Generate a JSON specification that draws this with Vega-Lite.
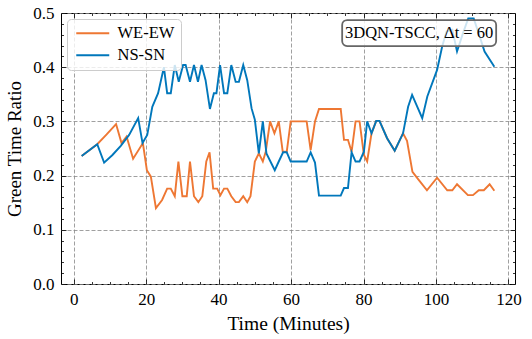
{
  "$schema": "https://vega.github.io/schema/vega-lite/v6.json",
  "width": 454,
  "height": 271,
  "autosize": "none",
  "padding": {"left": 61, "top": 13, "right": 17, "bottom": 55},
  "background": "white",
  "config": {"view": {"stroke": "black", "strokeWidth": 1}, "font": "Liberation Serif"},
  "datasets": {
    "lines": [
      {"t": 2.2, "s": "WE-EW", "v": 0.236}, {"t": 6.5, "s": "WE-EW", "v": 0.258}, {"t": 9.1, "s": "WE-EW", "v": 0.276},
      {"t": 11.7, "s": "WE-EW", "v": 0.295}, {"t": 13.2, "s": "WE-EW", "v": 0.26}, {"t": 14.6, "s": "WE-EW", "v": 0.272},
      {"t": 16.4, "s": "WE-EW", "v": 0.231}, {"t": 19.1, "s": "WE-EW", "v": 0.26}, {"t": 20.2, "s": "WE-EW", "v": 0.21},
      {"t": 21.3, "s": "WE-EW", "v": 0.198}, {"t": 22.7, "s": "WE-EW", "v": 0.14}, {"t": 24.4, "s": "WE-EW", "v": 0.155},
      {"t": 25.8, "s": "WE-EW", "v": 0.176}, {"t": 26.8, "s": "WE-EW", "v": 0.176}, {"t": 27.9, "s": "WE-EW", "v": 0.162},
      {"t": 28.9, "s": "WE-EW", "v": 0.226}, {"t": 30.0, "s": "WE-EW", "v": 0.162}, {"t": 31.2, "s": "WE-EW", "v": 0.162},
      {"t": 32.1, "s": "WE-EW", "v": 0.226}, {"t": 33.2, "s": "WE-EW", "v": 0.162}, {"t": 34.4, "s": "WE-EW", "v": 0.151},
      {"t": 35.5, "s": "WE-EW", "v": 0.162}, {"t": 36.6, "s": "WE-EW", "v": 0.226}, {"t": 37.5, "s": "WE-EW", "v": 0.243},
      {"t": 38.5, "s": "WE-EW", "v": 0.176}, {"t": 39.6, "s": "WE-EW", "v": 0.176}, {"t": 40.5, "s": "WE-EW", "v": 0.164},
      {"t": 41.5, "s": "WE-EW", "v": 0.176}, {"t": 42.4, "s": "WE-EW", "v": 0.176}, {"t": 43.5, "s": "WE-EW", "v": 0.162},
      {"t": 44.7, "s": "WE-EW", "v": 0.151}, {"t": 45.6, "s": "WE-EW", "v": 0.151}, {"t": 46.8, "s": "WE-EW", "v": 0.162},
      {"t": 47.9, "s": "WE-EW", "v": 0.151}, {"t": 48.8, "s": "WE-EW", "v": 0.162}, {"t": 50.0, "s": "WE-EW", "v": 0.226},
      {"t": 51.1, "s": "WE-EW", "v": 0.241}, {"t": 52.2, "s": "WE-EW", "v": 0.226}, {"t": 53.0, "s": "WE-EW", "v": 0.244},
      {"t": 54.2, "s": "WE-EW", "v": 0.3}, {"t": 55.4, "s": "WE-EW", "v": 0.278}, {"t": 56.6, "s": "WE-EW", "v": 0.3},
      {"t": 57.7, "s": "WE-EW", "v": 0.244}, {"t": 58.8, "s": "WE-EW", "v": 0.244}, {"t": 59.9, "s": "WE-EW", "v": 0.3},
      {"t": 64.3, "s": "WE-EW", "v": 0.3}, {"t": 65.4, "s": "WE-EW", "v": 0.247}, {"t": 66.6, "s": "WE-EW", "v": 0.3},
      {"t": 67.7, "s": "WE-EW", "v": 0.323}, {"t": 73.7, "s": "WE-EW", "v": 0.323}, {"t": 74.6, "s": "WE-EW", "v": 0.266},
      {"t": 75.7, "s": "WE-EW", "v": 0.266}, {"t": 76.7, "s": "WE-EW", "v": 0.244}, {"t": 77.8, "s": "WE-EW", "v": 0.3},
      {"t": 78.9, "s": "WE-EW", "v": 0.3}, {"t": 80.1, "s": "WE-EW", "v": 0.238}, {"t": 81.0, "s": "WE-EW", "v": 0.226},
      {"t": 82.2, "s": "WE-EW", "v": 0.278}, {"t": 83.5, "s": "WE-EW", "v": 0.301}, {"t": 84.4, "s": "WE-EW", "v": 0.301},
      {"t": 86.5, "s": "WE-EW", "v": 0.269}, {"t": 88.6, "s": "WE-EW", "v": 0.246}, {"t": 90.9, "s": "WE-EW", "v": 0.278},
      {"t": 92.0, "s": "WE-EW", "v": 0.264}, {"t": 93.5, "s": "WE-EW", "v": 0.207}, {"t": 95.0, "s": "WE-EW", "v": 0.194},
      {"t": 97.5, "s": "WE-EW", "v": 0.173}, {"t": 100.3, "s": "WE-EW", "v": 0.196}, {"t": 103.1, "s": "WE-EW", "v": 0.173},
      {"t": 104.5, "s": "WE-EW", "v": 0.173}, {"t": 105.8, "s": "WE-EW", "v": 0.184}, {"t": 108.8, "s": "WE-EW", "v": 0.164},
      {"t": 110.2, "s": "WE-EW", "v": 0.164}, {"t": 111.8, "s": "WE-EW", "v": 0.173}, {"t": 113.2, "s": "WE-EW", "v": 0.173},
      {"t": 114.8, "s": "WE-EW", "v": 0.184}, {"t": 116.1, "s": "WE-EW", "v": 0.172},
      {"t": 2.2, "s": "NS-SN", "v": 0.236}, {"t": 6.5, "s": "NS-SN", "v": 0.258}, {"t": 8.4, "s": "NS-SN", "v": 0.224},
      {"t": 10.7, "s": "NS-SN", "v": 0.238}, {"t": 13.0, "s": "NS-SN", "v": 0.255}, {"t": 15.3, "s": "NS-SN", "v": 0.275},
      {"t": 17.8, "s": "NS-SN", "v": 0.306}, {"t": 19.0, "s": "NS-SN", "v": 0.26}, {"t": 20.3, "s": "NS-SN", "v": 0.275},
      {"t": 21.7, "s": "NS-SN", "v": 0.327}, {"t": 23.3, "s": "NS-SN", "v": 0.352}, {"t": 24.9, "s": "NS-SN", "v": 0.4},
      {"t": 25.8, "s": "NS-SN", "v": 0.352}, {"t": 26.8, "s": "NS-SN", "v": 0.352}, {"t": 27.9, "s": "NS-SN", "v": 0.404},
      {"t": 29.0, "s": "NS-SN", "v": 0.373}, {"t": 30.2, "s": "NS-SN", "v": 0.404}, {"t": 30.9, "s": "NS-SN", "v": 0.404},
      {"t": 32.1, "s": "NS-SN", "v": 0.373}, {"t": 33.2, "s": "NS-SN", "v": 0.404}, {"t": 34.3, "s": "NS-SN", "v": 0.373},
      {"t": 35.3, "s": "NS-SN", "v": 0.404}, {"t": 36.4, "s": "NS-SN", "v": 0.376}, {"t": 37.6, "s": "NS-SN", "v": 0.323},
      {"t": 38.7, "s": "NS-SN", "v": 0.352}, {"t": 39.4, "s": "NS-SN", "v": 0.352}, {"t": 40.4, "s": "NS-SN", "v": 0.404},
      {"t": 41.5, "s": "NS-SN", "v": 0.352}, {"t": 42.4, "s": "NS-SN", "v": 0.352}, {"t": 43.5, "s": "NS-SN", "v": 0.404},
      {"t": 44.7, "s": "NS-SN", "v": 0.373}, {"t": 45.6, "s": "NS-SN", "v": 0.373}, {"t": 46.8, "s": "NS-SN", "v": 0.404},
      {"t": 47.9, "s": "NS-SN", "v": 0.376}, {"t": 49.1, "s": "NS-SN", "v": 0.324}, {"t": 50.0, "s": "NS-SN", "v": 0.303},
      {"t": 51.1, "s": "NS-SN", "v": 0.241}, {"t": 52.2, "s": "NS-SN", "v": 0.3}, {"t": 53.2, "s": "NS-SN", "v": 0.241},
      {"t": 55.5, "s": "NS-SN", "v": 0.21}, {"t": 56.6, "s": "NS-SN", "v": 0.226}, {"t": 57.8, "s": "NS-SN", "v": 0.243},
      {"t": 58.8, "s": "NS-SN", "v": 0.243}, {"t": 59.9, "s": "NS-SN", "v": 0.226}, {"t": 64.3, "s": "NS-SN", "v": 0.226},
      {"t": 65.4, "s": "NS-SN", "v": 0.243}, {"t": 66.6, "s": "NS-SN", "v": 0.224}, {"t": 67.7, "s": "NS-SN", "v": 0.163},
      {"t": 73.7, "s": "NS-SN", "v": 0.163}, {"t": 74.6, "s": "NS-SN", "v": 0.177}, {"t": 75.7, "s": "NS-SN", "v": 0.177},
      {"t": 76.7, "s": "NS-SN", "v": 0.243}, {"t": 77.8, "s": "NS-SN", "v": 0.226}, {"t": 78.9, "s": "NS-SN", "v": 0.226},
      {"t": 80.1, "s": "NS-SN", "v": 0.244}, {"t": 81.0, "s": "NS-SN", "v": 0.3}, {"t": 82.2, "s": "NS-SN", "v": 0.278},
      {"t": 83.5, "s": "NS-SN", "v": 0.301}, {"t": 84.4, "s": "NS-SN", "v": 0.301}, {"t": 86.5, "s": "NS-SN", "v": 0.269},
      {"t": 88.6, "s": "NS-SN", "v": 0.246}, {"t": 90.9, "s": "NS-SN", "v": 0.278}, {"t": 92.3, "s": "NS-SN", "v": 0.327},
      {"t": 93.4, "s": "NS-SN", "v": 0.349}, {"t": 96.2, "s": "NS-SN", "v": 0.306}, {"t": 97.6, "s": "NS-SN", "v": 0.346},
      {"t": 100.3, "s": "NS-SN", "v": 0.395}, {"t": 101.7, "s": "NS-SN", "v": 0.438}, {"t": 102.9, "s": "NS-SN", "v": 0.466},
      {"t": 104.5, "s": "NS-SN", "v": 0.469}, {"t": 105.8, "s": "NS-SN", "v": 0.429}, {"t": 107.4, "s": "NS-SN", "v": 0.462},
      {"t": 108.9, "s": "NS-SN", "v": 0.49}, {"t": 110.4, "s": "NS-SN", "v": 0.49}, {"t": 111.8, "s": "NS-SN", "v": 0.462},
      {"t": 113.4, "s": "NS-SN", "v": 0.429}, {"t": 116.1, "s": "NS-SN", "v": 0.401}
    ]
  },
  "layer": [
    {
      "data": {"name": "lines"},
      "mark": {"type": "line", "strokeWidth": 1.9, "clip": true},
      "encoding": {
        "x": {
          "field": "t", "type": "quantitative",
          "scale": {"domain": [-3.5, 121.8], "nice": false, "zero": false},
          "axis": {
            "orient": "bottom", "values": [0, 20, 40, 60, 80, 100, 120], "title": "Time (Minutes)",
            "grid": true, "gridColor": "#888888", "gridDash": [4, 2], "gridWidth": 0.8,
            "domain": false, "ticks": true, "tickSize": -5, "tickColor": "black", "tickWidth": 0.8,
            "labelPadding": 12, "labelFont": "Liberation Serif", "labelFontSize": 17, "labelColor": "black",
            "titleFont": "Liberation Serif", "titleFontSize": 19.5, "titleFontWeight": "normal", "titleColor": "black", "titlePadding": 7
          }
        },
        "y": {
          "field": "v", "type": "quantitative",
          "scale": {"domain": [0, 0.5], "nice": false, "zero": false},
          "axis": {
            "orient": "left", "values": [0, 0.1, 0.2, 0.3, 0.4, 0.5], "format": ".1f", "title": "Green Time Ratio",
            "grid": true, "gridColor": "#888888", "gridDash": [4, 2], "gridWidth": 0.8,
            "domain": false, "ticks": true, "tickSize": -5, "tickColor": "black", "tickWidth": 0.8,
            "labelPadding": 12, "labelFont": "Liberation Serif", "labelFontSize": 17, "labelColor": "black",
            "titleFont": "Liberation Serif", "titleFontSize": 19, "titleFontWeight": "normal", "titleColor": "black", "titlePadding": 8
          }
        },
        "color": {
          "field": "s", "type": "nominal",
          "scale": {"domain": ["WE-EW", "NS-SN"], "range": ["#EE7733", "#0077BB"]},
          "legend": {
            "orient": "top-left", "offset": 6, "title": null, "symbolType": "M-1,0L5.6,0", "symbolSize": 100,
            "symbolStrokeWidth": 2, "labelFont": "Liberation Serif", "labelFontSize": 16.5, "labelColor": "black",
            "fillColor": "rgba(255,255,255,0.8)", "strokeColor": "#cccccc", "cornerRadius": 4, "padding": 6,
            "rowPadding": 5, "labelOffset": 28
          }
        }
      }
    },
    {
      "data": {"name": "lines"},
      "mark": {"type": "point", "opacity": 0},
      "encoding": {
        "x": {
          "field": "t", "type": "quantitative",
          "scale": {"domain": [-3.5, 121.8], "nice": false, "zero": false},
          "axis": {"orient": "bottom", "values": [5, 10, 15, 25, 30, 35, 45, 50, 55, 65, 70, 75, 85, 90, 95, 105, 110, 115], "labels": false, "grid": false, "domain": false, "ticks": true, "tickSize": -2.5, "tickColor": "black", "tickWidth": 0.8, "title": null}
        },
        "y": {
          "field": "v", "type": "quantitative",
          "scale": {"domain": [0, 0.5], "nice": false, "zero": false},
          "axis": {"orient": "left", "values": [0.02, 0.04, 0.06, 0.08, 0.12, 0.14, 0.16, 0.18, 0.22, 0.24, 0.26, 0.28, 0.32, 0.34, 0.36, 0.38, 0.42, 0.44, 0.46, 0.48], "labels": false, "grid": false, "domain": false, "ticks": true, "tickSize": -2.5, "tickColor": "black", "tickWidth": 0.8, "title": null}
        }
      }
    },
    {
      "data": {"name": "lines"},
      "mark": {"type": "point", "opacity": 0},
      "encoding": {
        "x": {
          "field": "t", "type": "quantitative",
          "scale": {"domain": [-3.5, 121.8], "nice": false, "zero": false},
          "axis": {"orient": "top", "values": [0, 20, 40, 60, 80, 100, 120], "labels": false, "grid": false, "domain": false, "ticks": true, "tickSize": -5, "tickColor": "black", "tickWidth": 0.8, "title": null}
        },
        "y": {
          "field": "v", "type": "quantitative",
          "scale": {"domain": [0, 0.5], "nice": false, "zero": false},
          "axis": {"orient": "right", "values": [0, 0.1, 0.2, 0.3, 0.4, 0.5], "labels": false, "grid": false, "domain": false, "ticks": true, "tickSize": -5, "tickColor": "black", "tickWidth": 0.8, "title": null}
        }
      }
    },
    {
      "data": {"name": "lines"},
      "mark": {"type": "point", "opacity": 0},
      "encoding": {
        "x": {
          "field": "t", "type": "quantitative",
          "scale": {"domain": [-3.5, 121.8], "nice": false, "zero": false},
          "axis": {"orient": "top", "values": [5, 10, 15, 25, 30, 35, 45, 50, 55, 65, 70, 75, 85, 90, 95, 105, 110, 115], "labels": false, "grid": false, "domain": false, "ticks": true, "tickSize": -2.5, "tickColor": "black", "tickWidth": 0.8, "title": null}
        },
        "y": {
          "field": "v", "type": "quantitative",
          "scale": {"domain": [0, 0.5], "nice": false, "zero": false},
          "axis": {"orient": "right", "values": [0.02, 0.04, 0.06, 0.08, 0.12, 0.14, 0.16, 0.18, 0.22, 0.24, 0.26, 0.28, 0.32, 0.34, 0.36, 0.38, 0.42, 0.44, 0.46, 0.48], "labels": false, "grid": false, "domain": false, "ticks": true, "tickSize": -2.5, "tickColor": "black", "tickWidth": 0.8, "title": null}
        }
      }
    },
    {
      "data": {"values": [{}]},
      "mark": {"type": "rect", "fill": "white", "fillOpacity": 0.8, "stroke": "#666666", "strokeWidth": 1.8, "cornerRadius": 5},
      "encoding": {
        "x": {"datum": 74.1, "type": "quantitative", "scale": {"domain": [-3.5, 121.8], "nice": false, "zero": false}, "axis": null},
        "x2": {"datum": 116.6},
        "y": {"datum": 0.439, "type": "quantitative", "scale": {"domain": [0, 0.5], "nice": false, "zero": false}, "axis": null},
        "y2": {"datum": 0.487}
      }
    },
    {
      "data": {"values": [{}]},
      "mark": {"type": "text", "font": "Liberation Serif", "fontSize": 16.5, "color": "black", "align": "center", "baseline": "middle", "text": "3DQN-TSCC, Δt = 60"},
      "encoding": {
        "x": {"datum": 95.35, "type": "quantitative", "scale": {"domain": [-3.5, 121.8], "nice": false, "zero": false}, "axis": null},
        "y": {"datum": 0.463, "type": "quantitative", "scale": {"domain": [0, 0.5], "nice": false, "zero": false}, "axis": null}
      }
    }
  ],
  "resolve": {"axis": {"x": "independent", "y": "independent"}}
}
